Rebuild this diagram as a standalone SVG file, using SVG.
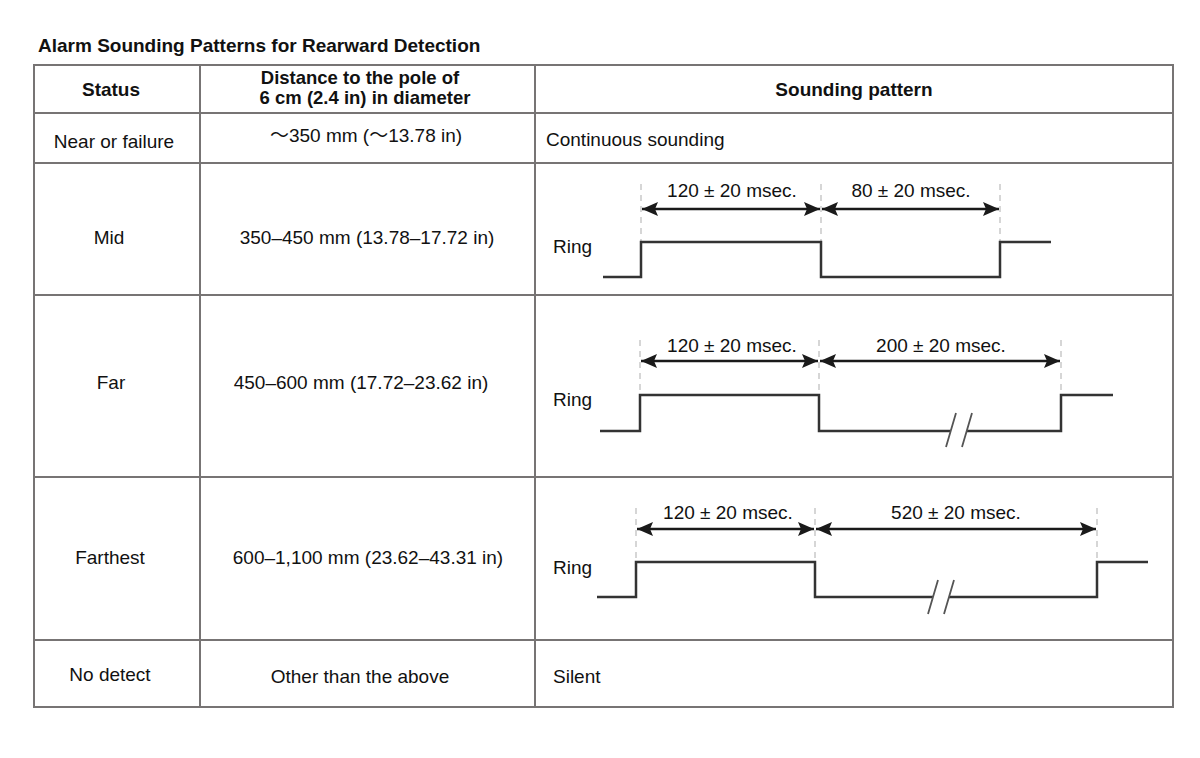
<svg xmlns="http://www.w3.org/2000/svg" width="1200" height="758" viewBox="0 0 1200 758">
<defs>
<marker id="ah" viewBox="0 0 16 14" refX="16" refY="7" markerWidth="16" markerHeight="14" markerUnits="userSpaceOnUse" orient="auto-start-reverse">
<path d="M0,0 L16,7 L0,14 L3,7 Z" fill="#1a1a1a"/>
</marker>
<style>
.t{font-family:"Liberation Sans",Arial,sans-serif;font-size:19px;fill:#111}
.b{font-weight:bold}
.c{text-anchor:middle}
.h2{font-size:18.5px}
.grid{stroke:#777474;stroke-width:2;fill:none}
.wave{stroke:#333;stroke-width:2.5;fill:none}
.dash{stroke:#bbb;stroke-width:1.2;stroke-dasharray:6 5;fill:none}
.arr{stroke:#1a1a1a;stroke-width:2.6;fill:none}
.brk{stroke:#555;stroke-width:1.8;fill:none}
</style>
</defs>
<rect width="1200" height="758" fill="#fff"/>
<text class="t b" x="38" y="52">Alarm Sounding Patterns for Rearward Detection</text>

<g id="table" class="grid">
<rect x="34" y="65" width="1139" height="642"/>
<line x1="200" y1="65" x2="200" y2="707"/>
<line x1="535" y1="65" x2="535" y2="707"/>
<line x1="34" y1="113" x2="1173" y2="113"/>
<line x1="34" y1="163" x2="1173" y2="163"/>
<line x1="34" y1="295" x2="1173" y2="295"/>
<line x1="34" y1="477" x2="1173" y2="477"/>
<line x1="34" y1="640" x2="1173" y2="640"/>
</g>

<g id="header">
<text class="t b c" x="111" y="96">Status</text>
<text class="t b c h2" x="360" y="84">Distance to the pole of</text>
<text class="t b c h2" x="365" y="104">6 cm (2.4 in) in diameter</text>
<text class="t b c" x="854" y="96">Sounding pattern</text>
</g>

<g id="row-near">
<text class="t c" x="114" y="148">Near or failure</text>
<text class="t c" x="366" y="142" style="font-family:'Liberation Sans','Noto Sans CJK JP',sans-serif">～350 mm (～13.78 in)</text>
<text class="t" x="546" y="146">Continuous sounding</text>
</g>

<g id="row-mid">
<text class="t c" x="109" y="244">Mid</text>
<text class="t c" x="367" y="244">350–450 mm (13.78–17.72 in)</text>
<text class="t" x="553" y="253">Ring</text>
<text class="t c" x="732" y="197">120 ± 20 msec.</text>
<text class="t c" x="911" y="197">80 ± 20 msec.</text>
</g>

<g id="row-far">
<text class="t c" x="111" y="389">Far</text>
<text class="t c" x="361" y="389">450–600 mm (17.72–23.62 in)</text>
<text class="t" x="553" y="406">Ring</text>
<text class="t c" x="732" y="352">120 ± 20 msec.</text>
<text class="t c" x="941" y="352">200 ± 20 msec.</text>
</g>

<g id="row-farthest">
<text class="t c" x="110" y="564">Farthest</text>
<text class="t c" x="368" y="564">600–1,100 mm (23.62–43.31 in)</text>
<text class="t" x="553" y="574">Ring</text>
<text class="t c" x="728" y="519">120 ± 20 msec.</text>
<text class="t c" x="956" y="519">520 ± 20 msec.</text>
</g>

<g id="row-nodetect">
<text class="t c" x="110" y="681">No detect</text>
<text class="t c" x="360" y="683">Other than the above</text>
<text class="t" x="553" y="683">Silent</text>
</g>

<g id="connectors">
<!-- Mid -->
<path class="dash" d="M641,184 V242 M821,184 V242 M1000,184 V242"/>
<line class="arr" x1="642" y1="209" x2="820" y2="209" marker-start="url(#ah)" marker-end="url(#ah)"/>
<line class="arr" x1="822" y1="209" x2="999" y2="209" marker-start="url(#ah)" marker-end="url(#ah)"/>
<path class="wave" d="M603,277 H641 V242 H821 V277 H1000 V242 H1051"/>
<!-- Far -->
<path class="dash" d="M640,340 V395 M819,340 V395 M1061,340 V395"/>
<line class="arr" x1="641" y1="361" x2="818" y2="361" marker-start="url(#ah)" marker-end="url(#ah)"/>
<line class="arr" x1="820" y1="361" x2="1060" y2="361" marker-start="url(#ah)" marker-end="url(#ah)"/>
<path class="wave" d="M600,431 H640 V395 H819 V431 H951 M967,431 H1061 V395 H1113"/>
<path class="brk" d="M956,413 L946,447 M972,413 L962,447"/>
<!-- Farthest -->
<path class="dash" d="M636,508 V562 M815,508 V562 M1097,508 V562"/>
<line class="arr" x1="637" y1="529" x2="814" y2="529" marker-start="url(#ah)" marker-end="url(#ah)"/>
<line class="arr" x1="816" y1="529" x2="1096" y2="529" marker-start="url(#ah)" marker-end="url(#ah)"/>
<path class="wave" d="M597,597 H636 V562 H815 V597 H933 M949,597 H1097 V562 H1148"/>
<path class="brk" d="M938,580 L928,614 M954,580 L944,614"/>
</g>
</svg>
